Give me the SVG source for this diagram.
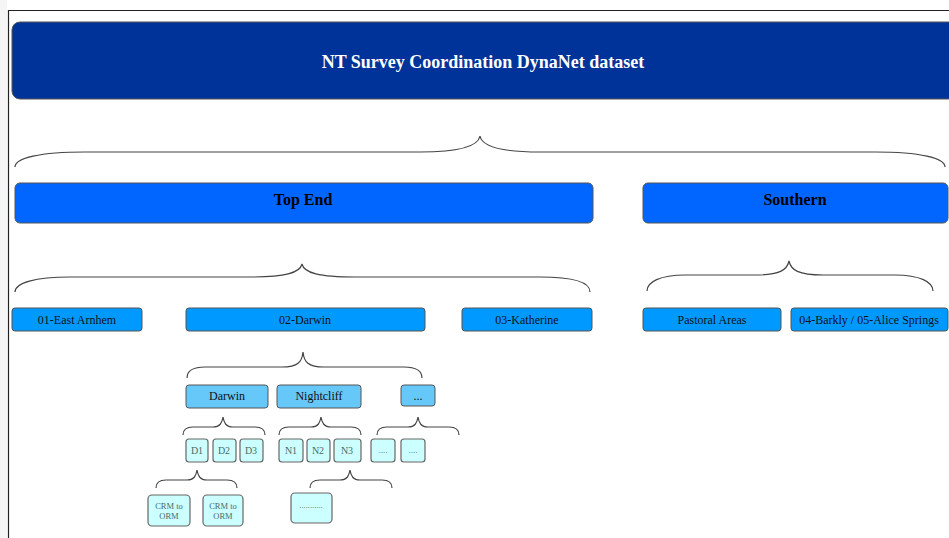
<svg xmlns="http://www.w3.org/2000/svg" width="949" height="538" viewBox="0 0 949 538">
<style>
  text { font-family: "Liberation Serif", "Times New Roman", serif; text-anchor: middle; dominant-baseline: central; }
  .brace { fill: none; stroke: #444; stroke-width: 1.2; }
  .b0 { fill: #003399; stroke: #555; stroke-width: 1; }
  .b1 { fill: #0066FF; stroke: #555; stroke-width: 1; }
  .b2 { fill: #0099FF; stroke: #555; stroke-width: 1; }
  .b3 { fill: #66C8F8; stroke: #555; stroke-width: 1; }
  .b4 { fill: #CCFFFF; stroke: #666; stroke-width: 1.2; }
  .t0 { font-size: 18px; font-weight: bold; fill: #fff; }
  .t1 { font-size: 16px; font-weight: bold; fill: #000; }
  .t2 { font-size: 12px; fill: #111; }
  .t3 { font-size: 12px; fill: #111; }
  .t4 { font-size: 10px; fill: #4a6a6a; }
  .t5 { font-size: 8.5px; fill: #4a6a6a; }
</style>
<rect x="0" y="0" width="949" height="538" fill="#fff"/>
<rect x="0" y="0" width="7" height="538" fill="#f5f5f5"/>
<path d="M8.5,538 V10.5 H949" fill="none" stroke="#222" stroke-width="1.2"/>

<g id="connectors">
  <path class="brace" d="M15,167 C15,158 40,152 85,152 L420,152 C458,152 478,147 480,136 C482,147 502,152 540,152 L875,152 C920,152 945,158 945,167"/>
  <path class="brace" d="M15,292 C15,283 35,277 70,277 L250,277 C285,277 300,273 302,264 C304,273 319,277 355,277 L540,277 C575,277 590,283 590,292"/>
  <path class="brace" d="M647,291 C647,282 660,275 685,275 L755,275 C780,275 787,270 789,261 C791,270 798,275 823,275 L895,275 C920,275 933,282 933,291"/>
  <path class="brace" d="M187,378 C187,371 193,367 205,367 L282,367 C298,367 302,362 303,352 C304,362 308,367 324,367 L404,367 C416,367 422,371 422,378"/>
  <path class="brace" d="M183,435 C183,430 186,427 193,427 L213,427 C220,427 222,423 223,417 C224,423 226,427 233,427 L255,427 C262,427 265,430 265,435"/>
  <path class="brace" d="M279,435 C279,430 282,427 289,427 L311,427 C318,427 320,423 321,417 C322,423 324,427 331,427 L351,427 C358,427 361,430 361,435"/>
  <path class="brace" d="M377,435 C377,430 380,427 387,427 L408,427 C415,427 417,423 418,417 C419,423 421,427 428,427 L449,427 C456,427 459,430 459,435"/>
  <path class="brace" d="M156,488 C156,483 159,480 166,480 L187,480 C194,480 196,476 197,470 C198,476 200,480 207,480 L227,480 C234,480 237,483 237,488"/>
  <path class="brace" d="M310,488 C310,483 313,480 320,480 L340,480 C347,480 349,476 350,470 C351,476 353,480 360,480 L382,480 C389,480 392,483 392,488"/>
</g>

<g id="root">
  <rect class="b0" x="12" y="22" width="950" height="77" rx="8"/>
  <text class="t0" x="483" y="62">NT Survey Coordination DynaNet dataset</text>
</g>

<g id="top-end">
  <rect class="b1" x="15" y="183" width="578" height="40" rx="5"/>
  <text class="t1" x="303" y="199">Top End</text>
</g>
<g id="southern">
  <rect class="b1" x="643" y="183" width="305" height="40" rx="5"/>
  <text class="t1" x="795" y="199">Southern</text>
</g>

<g id="east-arnhem">
  <rect class="b2" x="12" y="308" width="130" height="23" rx="3"/>
  <text class="t2" x="77" y="320">01-East Arnhem</text>
</g>
<g id="darwin-region">
  <rect class="b2" x="186" y="308" width="239" height="23" rx="3"/>
  <text class="t2" x="305" y="320">02-Darwin</text>
</g>
<g id="katherine">
  <rect class="b2" x="462" y="308" width="130" height="23" rx="3"/>
  <text class="t2" x="527" y="320">03-Katherine</text>
</g>
<g id="pastoral">
  <rect class="b2" x="643" y="308" width="138" height="23" rx="3"/>
  <text class="t2" x="712" y="320">Pastoral Areas</text>
</g>
<g id="barkly-alice">
  <rect class="b2" x="791" y="308" width="157" height="23" rx="3"/>
  <text class="t2" x="869" y="320">04-Barkly / 05-Alice Springs</text>
</g>

<g id="darwin">
  <rect class="b3" x="186" y="385" width="82" height="23" rx="3"/>
  <text class="t3" x="227" y="396">Darwin</text>
</g>
<g id="nightcliff">
  <rect class="b3" x="277" y="385" width="84" height="23" rx="3"/>
  <text class="t3" x="319" y="396">Nightcliff</text>
</g>
<g id="more">
  <rect class="b3" x="401" y="385" width="34" height="21" rx="3"/>
  <text class="t3" x="418" y="396">...</text>
</g>

<g id="d1"><rect class="b4" x="186" y="439" width="22" height="23" rx="3"/><text class="t4" x="197" y="450">D1</text></g>
<g id="d2"><rect class="b4" x="213" y="439" width="23" height="23" rx="3"/><text class="t4" x="224" y="450">D2</text></g>
<g id="d3"><rect class="b4" x="240" y="439" width="23" height="23" rx="3"/><text class="t4" x="251" y="450">D3</text></g>
<g id="n1"><rect class="b4" x="279" y="439" width="24" height="23" rx="3"/><text class="t4" x="291" y="450">N1</text></g>
<g id="n2"><rect class="b4" x="307" y="439" width="23" height="23" rx="3"/><text class="t4" x="318" y="450">N2</text></g>
<g id="n3"><rect class="b4" x="334" y="439" width="27" height="23" rx="3"/><text class="t4" x="347" y="450">N3</text></g>
<g id="dots1"><rect class="b4" x="371" y="439" width="24" height="23" rx="3"/><text class="t5" x="383" y="450" fill="#99aaaa">....</text></g>
<g id="dots2"><rect class="b4" x="401" y="439" width="24" height="23" rx="3"/><text class="t5" x="413" y="450" fill="#99aaaa">....</text></g>

<g id="crm1">
  <rect class="b4" x="148" y="495" width="42" height="31" rx="4"/>
  <text class="t5" x="169" y="506">CRM to</text>
  <text class="t5" x="169" y="516">ORM</text>
</g>
<g id="crm2">
  <rect class="b4" x="203" y="495" width="40" height="31" rx="4"/>
  <text class="t5" x="223" y="506">CRM to</text>
  <text class="t5" x="223" y="516">ORM</text>
</g>
<g id="dots3">
  <rect class="b4" x="291" y="493" width="41" height="30" rx="4"/>
  <text class="t5" x="311" y="505" fill="#99aaaa">...........</text>
</g>
</svg>
